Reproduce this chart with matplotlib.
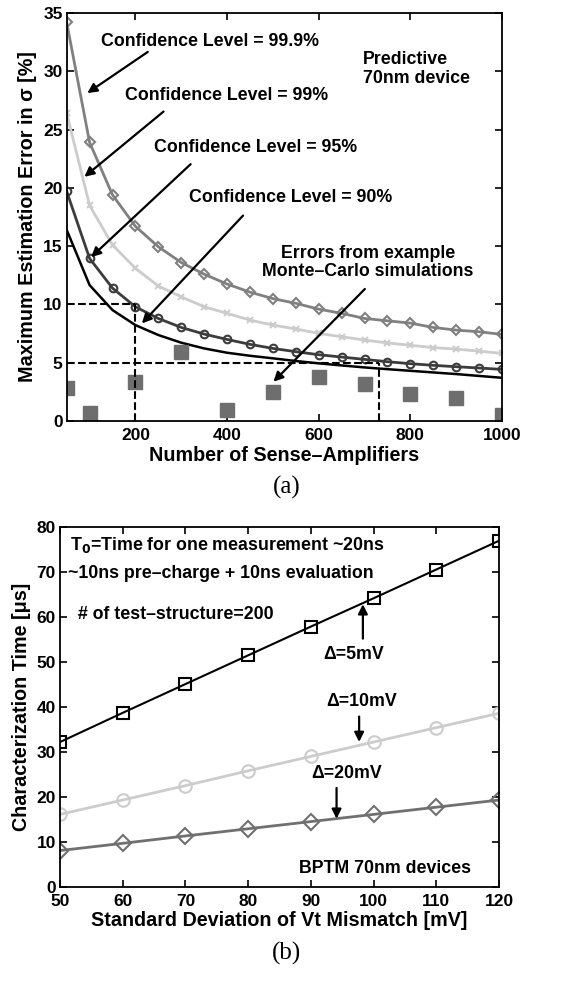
import matplotlib
matplotlib.use("Agg")
from matplotlib import pyplot as plt

plt.rcParams["font.family"] = ["Liberation Sans", "DejaVu Sans"]
plt.rcParams["font.weight"] = "bold"

# ---- panel (a) data ----
n_amps = [50, 100, 150, 200, 250, 300, 350, 400, 450, 500,
          550, 600, 650, 700, 750, 800, 850, 900, 950, 1000]
err_999 = [34.2, 23.9, 19.4, 16.7, 14.95, 13.6, 12.6, 11.75, 11.06, 10.5,
           10.1, 9.6, 9.24, 8.8, 8.6, 8.4, 8.03, 7.8, 7.66, 7.43]
err_99 = [26.4, 18.5, 15.1, 13.1, 11.58, 10.66, 9.8, 9.24, 8.66, 8.23,
          7.9, 7.52, 7.23, 6.95, 6.7, 6.5, 6.3, 6.17, 6.0, 5.8]
err_95 = [19.7, 13.95, 11.4, 9.8, 8.8, 8.03, 7.46, 7.0, 6.58, 6.23,
          5.95, 5.69, 5.49, 5.29, 5.09, 4.92, 4.78, 4.66, 4.55, 4.43]
err_90 = [16.4, 11.66, 9.52, 8.23, 7.38, 6.72, 6.23, 5.86, 5.6, 5.38,
          5.15, 4.95, 4.77, 4.6, 4.45, 4.31, 4.17, 4.03, 3.87, 3.71]
mc_amps = [50, 100, 200, 300, 400, 500, 600, 700, 800, 900, 1000]
mc_err = [2.86, 0.71, 3.32, 5.95, 0.94, 2.51, 3.75, 3.15, 2.32, 2.0, 0.51]

# ---- panel (b) data ----
sigma_vt = [50, 60, 70, 80, 90, 100, 110, 120]
t_5mv = [32.2, 38.7, 45.1, 51.5, 57.9, 64.2, 70.6, 77.0]
t_10mv = [16.1, 19.3, 22.5, 25.8, 29.0, 32.2, 35.4, 38.6]
t_20mv = [8.05, 9.66, 11.3, 12.9, 14.5, 16.1, 17.7, 19.3]

fig = plt.figure(figsize=(5.68, 9.81), dpi=100)

arrow = dict(arrowstyle="-|>", color="black", lw=1.6, mutation_scale=14)
fs = 12.8
label_fs = 14.2


def style_axes(ax):
    ax.tick_params(direction="in", top=True, right=True, labelsize=12.5,
                   length=5, width=1.2, pad=3)
    ax.tick_params(axis="x", pad=5)
    for s in ax.spines.values():
        s.set_linewidth(1.3)
    for lab in ax.get_xticklabels() + ax.get_yticklabels():
        lab.set_fontweight("bold")


# ---------------- (a) ----------------
ax1 = fig.add_axes([0.1174, 0.5708, 0.7664, 0.4159])
ax1.plot(n_amps, err_999, color="#808080", lw=2, marker="D", ms=5.5,
         mfc="none", mew=1.5)
ax1.plot(n_amps, err_99, color="#cccccc", lw=2, marker="x", ms=5, mew=1.5)
ax1.plot(n_amps, err_95, color="#3c3c3c", lw=2, marker="o", ms=5.5,
         mfc="none", mew=1.5)
ax1.plot(n_amps, err_90, color="black", lw=1.8)
ax1.plot(mc_amps, mc_err, ls="none", marker="s", ms=10, color="#6e6e6e")

ax1.plot([50, 200], [10, 10], "k--", lw=1.5)
ax1.plot([200, 200], [0, 10], "k--", lw=1.5)
ax1.plot([50, 731], [5, 5], "k--", lw=1.5)
ax1.plot([731, 731], [0, 5], "k--", lw=1.5)

ax1.set_xlim(50, 1000)
ax1.set_ylim(0, 35)
ax1.set_xticks([200, 400, 600, 800, 1000])
ax1.set_yticks([0, 5, 10, 15, 20, 25, 30, 35])
ax1.set_xlabel("Number of Sense\u2013Amplifiers", fontsize=label_fs,
               fontweight="bold", labelpad=2)
ax1.set_ylabel("Maximum Estimation Error in \u03c3 [%]", fontsize=label_fs,
               fontweight="bold", labelpad=4)
style_axes(ax1)

ax1.annotate("", xy=(90, 28.0), xytext=(232, 31.8), arrowprops=arrow)
ax1.text(363, 32.6, "Confidence Level = 99.9%", fontsize=fs, ha="center",
         va="center", fontweight="bold")
ax1.annotate("", xy=(84, 20.8), xytext=(266, 26.7), arrowprops=arrow)
ax1.text(400, 27.9, "Confidence Level = 99%", fontsize=fs, ha="center",
         va="center", fontweight="bold")
ax1.annotate("", xy=(99, 13.9), xytext=(325, 22.2), arrowprops=arrow)
ax1.text(463, 23.5, "Confidence Level = 95%", fontsize=fs, ha="center",
         va="center", fontweight="bold")
ax1.annotate("", xy=(210, 8.2), xytext=(439, 17.8), arrowprops=arrow)
ax1.text(539, 19.2, "Confidence Level = 90%", fontsize=fs, ha="center",
         va="center", fontweight="bold")
ax1.annotate("", xy=(497, 3.2), xytext=(705, 11.5), arrowprops=arrow)
ax1.text(707, 13.6, "Errors from example\nMonte\u2013Carlo simulations",
         fontsize=fs, ha="center", va="center", fontweight="bold",
         linespacing=1.15)
ax1.text(696, 30.2, "Predictive\n70nm device", fontsize=fs, ha="left",
         va="center", fontweight="bold", linespacing=1.15)

fig.text(0.505, 1 - 487 / 981, "(a)", fontsize=18, ha="center", va="center",
         family="Liberation Serif", fontweight="normal")

# ---------------- (b) ----------------
ax2 = fig.add_axes([0.1056, 0.0961, 0.7729, 0.3664])
ax2.plot(sigma_vt, t_5mv, color="black", lw=1.5, marker="s", ms=8,
         mfc="none", mew=1.5)
ax2.plot(sigma_vt, t_10mv, color="#cccccc", lw=2, marker="o", ms=9,
         mfc="none", mew=1.5)
ax2.plot(sigma_vt, t_20mv, color="#707070", lw=2, marker="D", ms=8,
         mfc="none", mew=1.5)

ax2.set_xlim(50, 120)
ax2.set_ylim(0, 80)
ax2.set_xticks(sigma_vt)
ax2.set_yticks([0, 10, 20, 30, 40, 50, 60, 70, 80])
ax2.set_xlabel("Standard Deviation of Vt Mismatch [mV]", fontsize=label_fs,
               fontweight="bold", labelpad=2)
ax2.set_ylabel("Characterization Time [\u03bcs]", fontsize=label_fs,
               fontweight="bold", labelpad=4)
style_axes(ax2)

ax2.text(51.6, 76.1, "T$_\\mathbf{0}$=Time for one measurement ~20ns",
         fontsize=fs, ha="left", va="center", fontweight="bold")
ax2.text(51.2, 69.8, "~10ns pre\u2013charge + 10ns evaluation", fontsize=fs,
         ha="left", va="center", fontweight="bold")
ax2.text(52.9, 60.5, "# of test\u2013structure=200", fontsize=fs, ha="left",
         va="center", fontweight="bold")

ax2.annotate("", xy=(98.3, 63.5), xytext=(98.3, 54.6), arrowprops=arrow)
ax2.text(96.8, 51.6, "\u0394=5mV", fontsize=fs, ha="center", va="center",
         fontweight="bold")
ax2.annotate("", xy=(97.7, 31.6), xytext=(97.7, 38.5), arrowprops=arrow)
ax2.text(98.1, 41.2, "\u0394=10mV", fontsize=fs, ha="center", va="center",
         fontweight="bold")
ax2.annotate("", xy=(94.1, 14.5), xytext=(94.1, 22.6), arrowprops=arrow)
ax2.text(95.7, 25.3, "\u0394=20mV", fontsize=fs, ha="center", va="center",
         fontweight="bold")
ax2.text(101.8, 4.1, "BPTM 70nm devices", fontsize=fs, ha="center",
         va="center", fontweight="bold")

fig.text(0.505, 1 - 953 / 981, "(b)", fontsize=18, ha="center", va="center",
         family="Liberation Serif", fontweight="normal")

fig.savefig("out.png", dpi=100)
plt.close(fig)
